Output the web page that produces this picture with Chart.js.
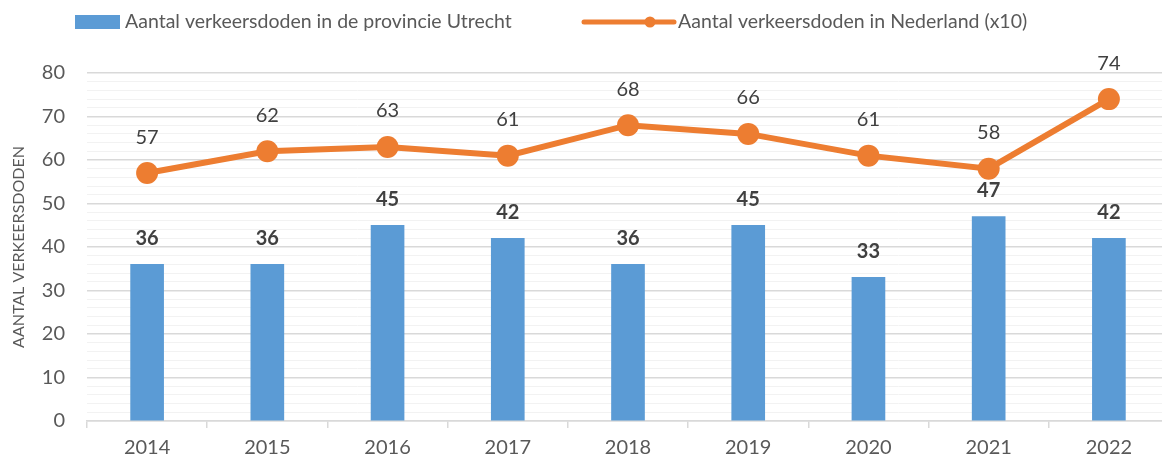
<!DOCTYPE html>
<html>
<head>
<meta charset="utf-8">
<script src="https://cdn.jsdelivr.net/npm/chart.js@4.4.0/dist/chart.umd.min.js"></script>
<style>
  html, body { margin: 0; padding: 0; background: #fff; overflow: hidden; }
  canvas { display: block; }
</style>
</head>
<body>
<canvas id="grafico" width="1180" height="462"></canvas>
<script>
// Dados do gráfico
var jaren = ['2014', '2015', '2016', '2017', '2018', '2019', '2020', '2021', '2022'];
var dodenUtrecht = [36, 36, 45, 42, 36, 45, 33, 47, 42];
var dodenNederland = [57, 62, 63, 61, 68, 66, 61, 58, 74];
var naamUtrecht = 'Aantal verkeersdoden in de provincie Utrecht';
var naamNederland = 'Aantal verkeersdoden in Nederland (x10)';

var blauw = '#5B9BD5';
var oranje = '#ED7D31';
var lettertype = 'Lato, "Open Sans", sans-serif';

// etiquetas com os valores por cima das barras / pontos
var etiquetas = {
    id: 'etiquetas',
    afterDatasetsDraw: function(chart) {
        var ctx = chart.ctx;
        ctx.save();
        ctx.textAlign = 'center';
        ctx.textBaseline = 'middle';
        ctx.fillStyle = '#404040';
        chart.data.datasets.forEach(function(ds, i) {
            var meta = chart.getDatasetMeta(i);
            meta.data.forEach(function(el, j) {
                if (ds.type === 'line') {
                    ctx.font = '20px ' + lettertype;
                    ctx.fillText(ds.data[j], el.x, el.y - 36);
                } else {
                    ctx.font = 'bold 20px ' + lettertype;
                    ctx.fillText(ds.data[j], el.x, el.y - 26);
                }
            });
        });
        ctx.restore();
    }
};

// legenda desenhada à mão (linha com marcador)
var legenda = {
    id: 'legenda',
    afterDraw: function(chart) {
        var ctx = chart.ctx;
        ctx.save();
        ctx.font = '19.5px ' + lettertype;
        ctx.textBaseline = 'middle';
        ctx.fillStyle = blauw;
        ctx.fillRect(75, 15, 45, 14);
        ctx.fillStyle = '#595959';
        ctx.fillText(naamUtrecht, 125, 22);

        ctx.strokeStyle = oranje;
        ctx.lineWidth = 5;
        ctx.lineCap = 'round';
        ctx.beginPath();
        ctx.moveTo(584, 22);
        ctx.lineTo(674, 22);
        ctx.stroke();
        ctx.fillStyle = oranje;
        ctx.beginPath();
        ctx.arc(650, 22, 5.5, 0, Math.PI * 2);
        ctx.fill();
        ctx.fillStyle = '#595959';
        ctx.fillText(naamNederland, 678, 22);
        ctx.restore();
    }
};

var grafico = new Chart(document.getElementById('grafico').getContext('2d'), {
    type: 'bar',
    data: {
        labels: jaren,
        datasets: [
            {
                type: 'line',
                label: naamNederland,
                data: dodenNederland,
                borderColor: oranje,
                backgroundColor: oranje,
                borderWidth: 6,
                pointRadius: 11,
                pointHoverRadius: 11,
                pointBackgroundColor: oranje,
                pointBorderWidth: 0,
                tension: 0,
                order: 0
            },
            {
                type: 'bar',
                label: naamUtrecht,
                data: dodenUtrecht,
                backgroundColor: blauw,
                barThickness: 33,
                order: 1
            }
        ]
    },
    options: {
        responsive: false,
        animation: false,
        events: [],
        layout: { padding: { left: 0, right: 9, top: 73, bottom: 0 } },
        plugins: {
            legend: { display: false },
            tooltip: { enabled: false }
        },
        scales: {
            x: {
                offset: true,
                grid: {
                    offset: true,
                    drawOnChartArea: false,
                    drawTicks: true,
                    tickLength: 7,
                    color: '#D9D9D9',
                    lineWidth: 1.5
                },
                border: { color: '#D9D9D9', width: 1.5 },
                ticks: {
                    color: '#595959',
                    font: { family: lettertype, size: 20 },
                    padding: 8
                },
                afterFit: function(scale) { scale.height = 41; }
            },
            y: {
                min: 0,
                max: 80,
                border: { display: false },
                grid: {
                    drawTicks: false,
                    color: function(c) { return c.tick.value % 10 === 0 ? '#D9D9D9' : '#F2F2F2'; },
                    lineWidth: function(c) { return c.tick.value % 10 === 0 ? 1.5 : 1; }
                },
                ticks: {
                    stepSize: 2,
                    autoSkip: false,
                    color: '#595959',
                    font: { family: lettertype, size: 20 },
                    padding: 22,
                    callback: function(v) { return v % 10 === 0 ? v : ''; }
                },
                title: {
                    display: true,
                    text: 'AANTAL VERKEERSDODEN',
                    color: '#595959',
                    font: { family: lettertype, size: 16 },
                    padding: { top: 9, bottom: 0 }
                },
                afterFit: function(scale) { scale.width = 87; }
            }
        }
    },
    plugins: [etiquetas, legenda]
});
</script>
</body>
</html>
